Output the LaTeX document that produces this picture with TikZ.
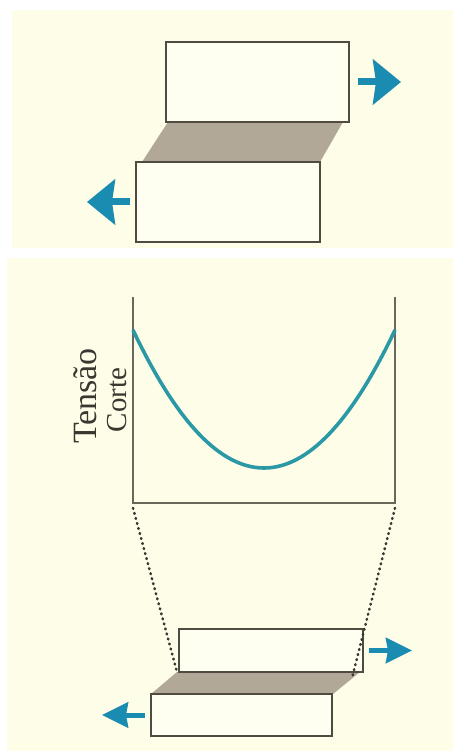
\documentclass[tikz,border=0pt]{standalone}
\usepackage{fontspec}
\setmainfont{Liberation Serif}
\usetikzlibrary{arrows.meta}

\definecolor{paper}{HTML}{FEFDE8}
\definecolor{edge}{HTML}{4F4B40}
\definecolor{shear}{HTML}{B2A898}
\definecolor{force}{HTML}{1A8CB2}
\definecolor{profile}{HTML}{2B98A6}
\definecolor{frame}{HTML}{6A665C}
\definecolor{ink}{HTML}{3A3630}

\begin{document}
\begin{tikzpicture}[x=1pt, y=-1pt,
        block/.style = {rectangle, draw=edge, fill=paper!60!white, line width=1.8pt, inner sep=0pt, outer sep=0pt},
        slab/.style = {block, line width=1.4pt},
        push/.style = {-{Stealth[length=28pt, width=45pt, inset=3pt]}, line width=7pt, draw=force},
        nudge/.style = {-{Stealth[length=26pt, width=25pt, inset=2pt]}, line width=5pt, draw=force},
        guide/.style = {draw=ink, line width=2.6pt, line cap=round, dash pattern=on 0.8pt off 4.4pt},
        label/.style = {rotate=90, text=ink, inner sep=0pt}
    ]
        \useasboundingbox (0,0) rectangle (453,751);
        % Backgrounds of both panels
        \fill[white] (0,0) rectangle (453,751);
        \fill[paper] (12,10) rectangle (453,248);
        \fill[paper] (7,258) rectangle (453,751);

        % Top panel: two blocks sheared apart
        \fill[shear] (168,122) -- (343,122) -- (320,162) -- (142,162) -- cycle;
        \node[block, minimum width=183pt, minimum height=80pt] (topUpper) at (257.5,82) {};
        \node[block, minimum width=184pt, minimum height=80pt] (topLower) at (228,202) {};
        \draw[push] ([xshift=9pt]topUpper.east) -- ++(43,0);
        \draw[push] ([xshift=-6pt]topLower.west) -- ++(-43,0);

        % Middle panel: shear stress profile
        \coordinate (axTop) at (133,297);
        \coordinate (orig) at (133,503);
        \coordinate (axEnd) at (395,503);
        \coordinate (axEndTop) at (395,297);
        \draw[frame, line width=2pt] (axTop) -- (orig) -- (axEnd) -- (axEndTop);
        \draw[profile, line width=3.6pt] (133,330) .. controls (220.3,514) and (307.7,514) .. (395,330);
        \node[label, font=\fontsize{34}{36}\selectfont] (lblTensao) at (85,396) {Tensão};
        \node[label, font=\fontsize{29}{31}\selectfont] (lblCorte) at (117,400) {Corte};

        % Bottom panel: thin layer between blocks
        \fill[shear] (177,672) -- (360,672) -- (333,694) -- (151,694) -- cycle;
        \node[slab, minimum width=184pt, minimum height=43pt] (botUpper) at (271,650.5) {};
        \node[slab, minimum width=181pt, minimum height=42pt] (botLower) at (241.5,715) {};
        \draw[nudge] ([xshift=6pt]botUpper.east) -- ++(43,0);
        \draw[nudge] ([xshift=-6pt]botLower.west) -- ++(-43,0);

        % Guides from the profile down to the layer
        \coordinate (gapLeft) at (177,672);
        \coordinate (gapRight) at (352,678);
        \draw[guide] ([yshift=-5pt]orig) -- (gapLeft);
        \draw[guide] ([yshift=-5pt]axEnd) -- (gapRight);
    \end{tikzpicture}
\end{document}
